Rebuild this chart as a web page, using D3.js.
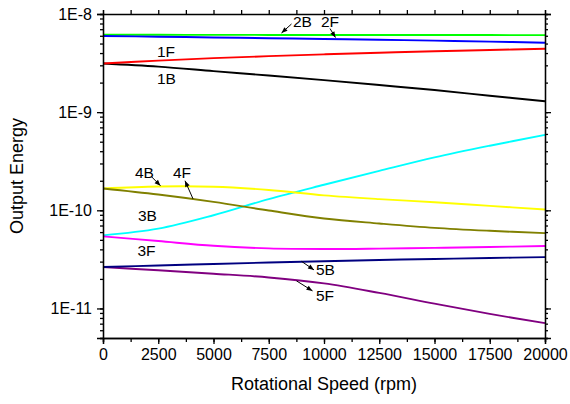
<!DOCTYPE html>
<html lang="en">
<meta charset="utf-8">
<style>
body { margin: 0; background: #fff; }
text { font-family: Arial, "Liberation Sans", sans-serif; fill: #000; }
.axis path, .axis line { fill: none; stroke: #000; stroke-width: 1.3; }
.curve { fill: none; stroke-width: 1.9; }
</style>
<body>
<svg width="570" height="404"></svg>
<script src="https://d3js.org/d3.v7.min.js"></script>
<script>

// rotational speed (rpm) sample points
var rpm = [0, 2500, 5000, 7500, 10000, 12500, 15000, 17500, 20000];

// output energy per mode
var s1F = [3.13e-9, 3.35e-9, 3.55e-9, 3.72e-9, 3.88e-9, 4.03e-9, 4.17e-9, 4.30e-9, 4.42e-9];
var s1B = [3.13e-9, 2.91e-9, 2.62e-9, 2.36e-9, 2.12e-9, 1.89e-9, 1.68e-9, 1.47e-9, 1.29e-9];
var s2B = [6.15e-9, 6.14e-9, 6.13e-9, 6.12e-9, 6.12e-9, 6.11e-9, 6.10e-9, 6.10e-9, 6.09e-9];
var s2F = [5.97e-9, 5.87e-9, 5.77e-9, 5.67e-9, 5.57e-9, 5.46e-9, 5.35e-9, 5.23e-9, 5.10e-9];
var s3B = [5.56e-11, 6.5e-11, 8.9e-11, 1.3e-10, 1.82e-10, 2.52e-10, 3.46e-10, 4.55e-10, 5.86e-10];
var s3F = [5.43e-11, 4.86e-11, 4.35e-11, 4.09e-11, 4.03e-11, 4.07e-11, 4.14e-11, 4.23e-11, 4.33e-11];
var s4B = [1.67e-10, 1.75e-10, 1.74e-10, 1.61e-10, 1.42e-10, 1.30e-10, 1.21e-10, 1.11e-10, 1.02e-10];
var s4F = [1.67e-10, 1.45e-10, 1.22e-10, 9.96e-11, 8.26e-11, 7.34e-11, 6.62e-11, 6.18e-11, 5.86e-11];
var s5B = [2.64e-11, 2.74e-11, 2.84e-11, 2.94e-11, 3.03e-11, 3.12e-11, 3.19e-11, 3.27e-11, 3.33e-11];
var s5F = [2.64e-11, 2.45e-11, 2.26e-11, 2.07e-11, 1.80e-11, 1.44e-11, 1.12e-11, 8.8e-12, 7.08e-12];

var xTicks = [0, 2500, 5000, 7500, 10000, 12500, 15000, 17500, 20000];
var yTicks = [1e-11, 1e-10, 1e-9, 1e-8];
var yTickLabels = ["1E-11", "1E-10", "1E-9", "1E-8"];

// labels: [text, rpm, energy]
var labels = [
  ["2B", 8597, 7.37e-9], ["2F", 9864, 7.37e-9],
  ["1F", 2443, 3.64e-9], ["1B", 2443, 1.93e-9],
  ["4B", 1448, 2.12e-10], ["4F", 3167, 2.12e-10],
  ["3B", 1584, 7.73e-11], ["3F", 1561, 3.40e-11],
  ["5B", 9638, 2.17e-11], ["5F", 9638, 1.18e-11]
];
// arrows: [rpm from, energy from, rpm to, energy to] (head at "to")
var arrows = [
  [8529, 7.91e-9, 8077, 6.40e-9],
  [10271, 7.11e-9, 10520, 5.76e-9],
  [2195, 2.2e-10, 2602, 1.78e-10],
  [4072, 1.31e-10, 3710, 2.0e-10],
  [8982, 3.02e-11, 9548, 2.47e-11],
  [8756, 1.91e-11, 9480, 1.51e-11]
];

var series = [
  {v: s2B, c: "#00ff00"}, {v: s2F, c: "#0000ff"},
  {v: s1B, c: "#000000"}, {v: s1F, c: "#ff0000"},
  {v: s3B, c: "#00ffff"}, {v: s4B, c: "#ffff00"},
  {v: s4F, c: "#808000"}, {v: s3F, c: "#ff00ff"},
  {v: s5F, c: "#800080"}, {v: s5B, c: "#000080"}
];

var svg = d3.select("svg"),
    margin = {top: 14, right: 25, bottom: 66, left: 103},
    width = +svg.attr("width") - margin.left - margin.right,
    height = +svg.attr("height") - margin.top - margin.bottom;

var x = d3.scaleLinear().domain([0, 20000]).range([margin.left, margin.left + width]);
var y = d3.scaleLog().domain([5e-12, 1e-8]).range([margin.top + height, margin.top]);

var minorX = d3.range(0, 20001, 1250);
var minorY = [];
[-12, -11, -10, -9].forEach(function(e) {
  d3.range(1, 10).forEach(function(m) {
    var v = m * Math.pow(10, e);
    if (v >= 5e-12 && v <= 1e-8) minorY.push(v);
  });
});

svg.append("defs").append("marker")
    .attr("id", "head")
    .attr("viewBox", "0 0 10 10")
    .attr("refX", 10).attr("refY", 5)
    .attr("markerWidth", 8).attr("markerHeight", 6)
    .attr("markerUnits", "userSpaceOnUse")
    .attr("orient", "auto")
  .append("path")
    .attr("d", "M0,1 L10,5 L0,9 Z")
    .attr("fill", "#000");

var line = d3.line()
    .x(function(d, i) { return x(rpm[i]); })
    .y(function(d) { return y(d); })
    .curve(d3.curveCatmullRom.alpha(0.5));

svg.append("g").selectAll("path")
  .data(series)
  .enter().append("path")
    .attr("class", "curve")
    .attr("stroke", function(d) { return d.c; })
    .attr("d", function(d) { return line(d.v); });

// axes
var bottom = margin.top + height, right = margin.left + width;

svg.append("g").attr("class", "axis")
    .attr("transform", "translate(0," + bottom + ")")
    .call(d3.axisBottom(x).tickValues(minorX).tickSize(4).tickFormat(""));
svg.append("g").attr("class", "axis")
    .attr("transform", "translate(0," + bottom + ")")
    .call(d3.axisBottom(x).tickValues(xTicks).tickSize(6).tickPadding(5).tickFormat(d3.format("d")))
    .selectAll("text").style("font-size", "16px");

svg.append("g").attr("class", "axis")
    .attr("transform", "translate(0," + margin.top + ")")
    .call(d3.axisTop(x).tickValues(minorX).tickSize(4).tickFormat(""));

svg.append("g").attr("class", "axis")
    .attr("transform", "translate(" + margin.left + ",0)")
    .call(d3.axisLeft(y).tickValues(minorY).tickSize(3).tickFormat(""));
svg.append("g").attr("class", "axis")
    .attr("transform", "translate(" + margin.left + ",0)")
    .call(d3.axisLeft(y).tickValues(yTicks).tickSize(6).tickPadding(5)
      .tickFormat(function(d, i) { return yTickLabels[i]; }))
    .selectAll("text").style("font-size", "16px");

svg.append("g").attr("class", "axis")
    .attr("transform", "translate(" + right + ",0)")
    .call(d3.axisRight(y).tickValues(minorY).tickSize(3).tickFormat(""));
svg.append("g").attr("class", "axis")
    .attr("transform", "translate(" + right + ",0)")
    .call(d3.axisRight(y).tickValues(yTicks).tickSize(6).tickFormat(""));

svg.selectAll(".axis .domain").attr("stroke-width", 1.6);

// axis titles
svg.append("text")
    .attr("x", margin.left + width / 2)
    .attr("y", 390)
    .attr("text-anchor", "middle")
    .style("font-size", "18px")
    .text("Rotational Speed (rpm)");

svg.append("text")
    .attr("transform", "translate(23," + (margin.top + height / 2) + ") rotate(-90)")
    .attr("text-anchor", "middle")
    .style("font-size", "18px")
    .text("Output Energy");

// annotations
svg.append("g").selectAll("text")
  .data(labels)
  .enter().append("text")
    .attr("x", function(d) { return x(d[1]); })
    .attr("y", function(d) { return y(d[2]); })
    .style("font-size", "15.5px")
    .text(function(d) { return d[0]; });

svg.append("g").selectAll("line")
  .data(arrows)
  .enter().append("line")
    .attr("x1", function(d) { return x(d[0]); })
    .attr("y1", function(d) { return y(d[1]); })
    .attr("x2", function(d) { return x(d[2]); })
    .attr("y2", function(d) { return y(d[3]); })
    .attr("stroke", "#000")
    .attr("stroke-width", 1)
    .attr("marker-end", "url(#head)");

</script>
</body>
</html>
